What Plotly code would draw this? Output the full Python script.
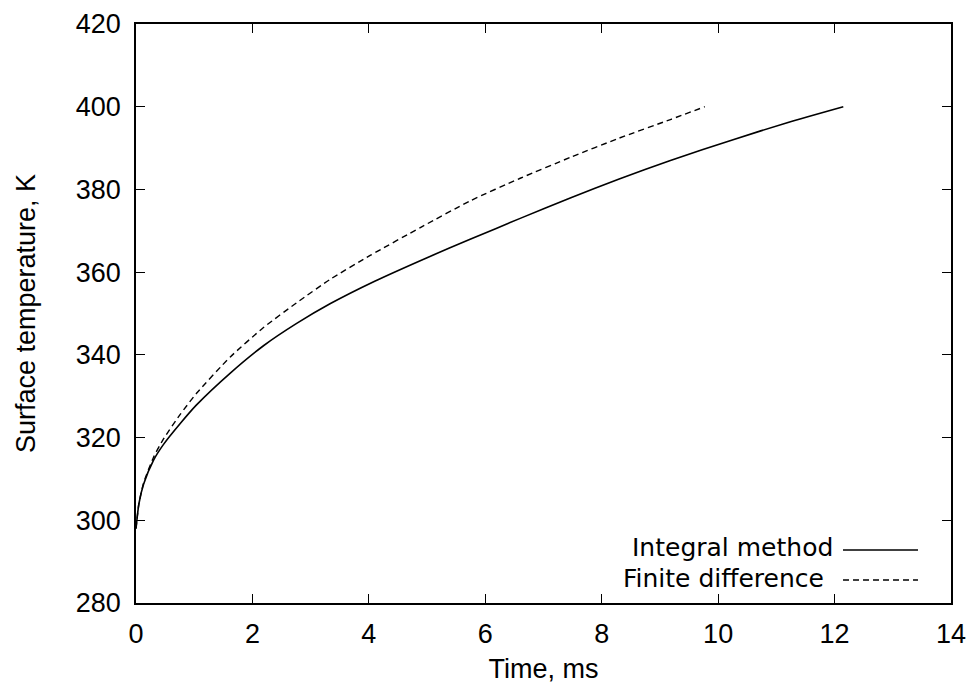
import plotly.graph_objects as go

# Integral method (solid)
t_integral = [0, 0.05, 0.13, 0.30, 0.47, 0.76, 1.04, 1.62, 2.19, 2.76, 3.34, 4.10,
              5.00, 5.75, 6.60, 7.47, 8.30, 9.18, 10.27, 11.20, 12.15]
T_integral = [298, 304, 308.7, 314.5, 318.3, 323.4, 327.9, 335.6, 342.2, 347.6, 352.4, 357.8,
              363.5, 368.0, 373.0, 378.0, 382.5, 387.0, 392.1, 396.2, 400]

# Finite difference (dashed)
t_finite = [0, 0.05, 0.13, 0.30, 0.47, 0.76, 1.04, 1.62, 2.19, 2.76, 3.34, 4.03,
            4.90, 5.75, 6.60, 7.47, 8.30, 9.18, 9.77]
T_finite = [298, 304, 309, 315.2, 319.6, 325.6, 330.7, 339.5, 346.6, 352.6, 358.3, 364.1,
            370.9, 377.3, 382.7, 387.8, 392.4, 396.9, 400]

x_ticks = [0, 2, 4, 6, 8, 10, 12, 14]
y_ticks = [280, 300, 320, 340, 360, 380, 400, 420]

legend_labels = ["Integral method", "Finite difference"]

fig = go.Figure()
fig.add_trace(go.Scatter(x=t_integral, y=T_integral, mode="lines",
                         line=dict(color="black", width=1.6, shape="spline", smoothing=0.6),
                         name=legend_labels[0], showlegend=False))
fig.add_trace(go.Scatter(x=t_finite, y=T_finite, mode="lines",
                         line=dict(color="black", width=1.4, dash="6px,4px", shape="spline", smoothing=0.6),
                         name=legend_labels[1], showlegend=False))

axis_font = dict(family="Liberation Sans, Arial", size=27, color="black")
axis_common = dict(
    showgrid=False, zeroline=False, showline=True, linecolor="black", linewidth=1.5,
    mirror="ticks", ticks="inside", ticklen=9, tickwidth=1.3, tickcolor="black",
    tickfont=axis_font,
)

fig.update_xaxes(range=[0, 14], tickvals=x_ticks, ticktext=[str(v) for v in x_ticks],
                 title=dict(text="Time, ms", font=axis_font, standoff=16),
                 ticklabelstandoff=6, **axis_common)
fig.update_yaxes(range=[280, 420], tickvals=y_ticks, ticktext=[str(v) for v in y_ticks],
                 title=dict(text="Surface temperature, K", font=axis_font, standoff=32),
                 ticklabelstandoff=8, **axis_common)

# Legend: text on the left, line sample on the right (gnuplot style)
legend_font = dict(family="DejaVu Sans", size=25, color="black")
fig.add_annotation(x=0.858, y=0.095, xref="paper", yref="paper", text=legend_labels[0],
                   showarrow=False, xanchor="right", yanchor="middle", font=legend_font)
fig.add_annotation(x=0.847, y=0.043, xref="paper", yref="paper", text=legend_labels[1],
                   showarrow=False, xanchor="right", yanchor="middle", font=legend_font)
fig.add_shape(type="line", xref="paper", yref="paper", x0=0.8675, x1=0.9595, y0=0.0915, y1=0.0915,
              line=dict(color="black", width=1.6))
fig.add_shape(type="line", xref="paper", yref="paper", x0=0.8675, x1=0.9595, y0=0.0397, y1=0.0397,
              line=dict(color="black", width=1.4, dash="6px,4px"))

fig.update_layout(
    width=973, height=684,
    margin=dict(l=136, r=22, t=24, b=81, autoexpand=False),
    paper_bgcolor="white", plot_bgcolor="white",
    showlegend=False,
)

fig.write_html("out.html")
